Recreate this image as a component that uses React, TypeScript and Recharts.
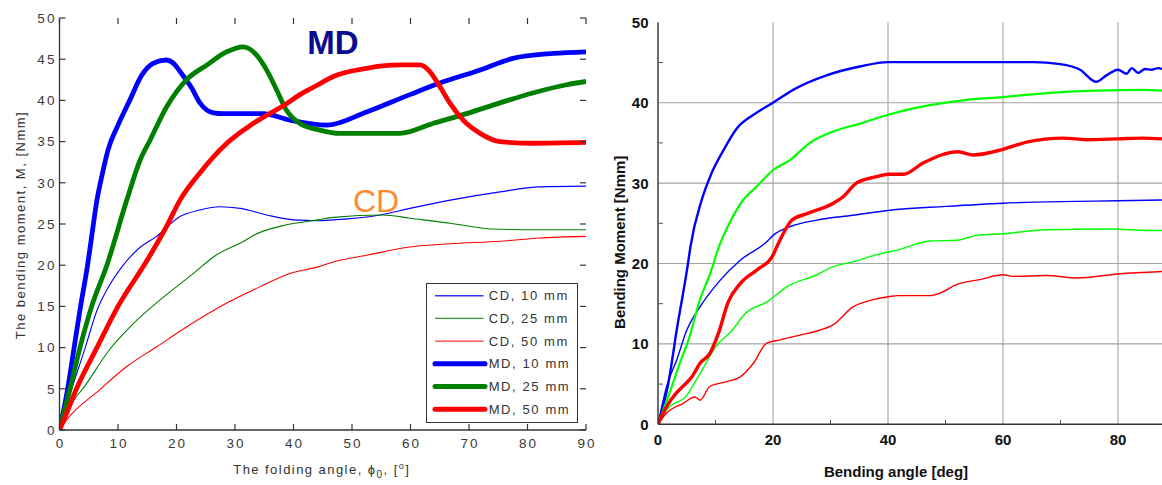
import React from 'react';
import { LineChart, Line, XAxis, YAxis, CartesianGrid, Legend, ReferenceDot, Label } from 'recharts';

const FONT = '"Liberation Sans", Arial, Helvetica, sans-serif';

// ================= Left chart data =================
const leftAngleTicks = [0, 10, 20, 30, 40, 50, 60, 70, 80, 90];
const leftMomentTicks = [0, 5, 10, 15, 20, 25, 30, 35, 40, 45, 50];

const cd10Angle = [0, 1, 2.1, 4.4, 6.4, 8.5, 10.9, 13.5, 16.6, 20.6, 24, 27.4, 30.9, 35.4, 40, 44.2, 46.8, 54.8, 59.9, 66.8, 75.3, 82.1, 90];
const cd10Moment = [0, 2.5, 5, 10, 14.5, 17.5, 20, 22, 23.5, 25.9, 26.7, 27.1, 26.9, 26.1, 25.5, 25.4, 25.5, 26.1, 26.9, 27.9, 28.9, 29.5, 29.6];

const cd25Angle = [0, 1.5, 4.5, 8.6, 12.6, 17.2, 22.9, 26.3, 31.7, 33.1, 38.8, 44.2, 46.8, 55.3, 59.9, 66.8, 73.6, 80.9, 90];
const cd25Moment = [0, 2.5, 5.5, 9.8, 12.9, 15.8, 19, 21, 23, 23.6, 24.9, 25.5, 25.8, 26.1, 25.7, 25.1, 24.4, 24.3, 24.3];

const cd50Angle = [0, 1.2, 6.9, 11.5, 16.6, 21.7, 28.6, 34.3, 39.4, 44.2, 46.8, 52.5, 59.9, 66.8, 75.3, 82, 90];
const cd50Moment = [0, 1.2, 4.9, 7.7, 10.1, 12.5, 15.4, 17.4, 19, 19.8, 20.4, 21.2, 22.2, 22.6, 22.9, 23.3, 23.5];

const md10Angle = [0, 1.4, 2.5, 3.6, 4.8, 5.6, 6.4, 7.3, 8.3, 10, 12, 14, 16, 18.2, 19.5, 20.6, 22.6, 24, 26.3, 28, 34.8, 39.4, 45.7, 52.5, 59.9, 65, 71.9, 77.5, 84.4, 90];
const md10Moment = [0, 5, 10, 15, 20, 24, 27.9, 31, 34, 37, 40, 43, 44.5, 44.9, 44.5, 43.5, 41.5, 39.7, 38.5, 38.4, 38.4, 37.6, 37.0, 38.6, 40.7, 42.1, 43.7, 45.1, 45.7, 45.9];

const md25Angle = [0, 1.8, 3.5, 5.5, 8.1, 11.5, 13.8, 15.5, 18.3, 21.7, 25.2, 28.6, 31.4, 33.7, 35.4, 37.1, 38.8, 41.1, 44.5, 47.9, 52, 58.2, 63.8, 69.6, 75.3, 80.9, 86.7, 90];
const md25Moment = [0, 5, 10, 15, 20, 27.9, 32.8, 35.2, 39.2, 42.5, 44.3, 45.9, 46.5, 45.5, 43.7, 41.3, 38.8, 37.2, 36.4, 36.0, 36.0, 36.0, 37.2, 38.4, 39.7, 40.9, 41.9, 42.3];

const md50Angle = [0, 1.2, 2.9, 6.4, 10, 14.9, 18.3, 20.6, 24, 28.6, 33.1, 38.8, 41.1, 44.2, 46.8, 52.5, 58.2, 61.6, 63.3, 65, 66.8, 69, 71.9, 75.3, 80.9, 90];
const md50Moment = [0, 2, 5, 10, 15, 20.5, 24.7, 27.9, 31.2, 34.8, 37.2, 39.6, 40.7, 41.9, 42.9, 43.9, 44.3, 44.3, 43.5, 41.7, 39.6, 37.6, 36.0, 35.0, 34.8, 34.9];

// ================= Right chart data =================
const rightAngleTicks = [0, 10, 20, 30, 40, 50, 60, 70, 80];
const rightMajorAngles = [20, 40, 60, 80];
const rightMomentTicks = [0, 5, 10, 15, 20, 25, 30, 35, 40, 45, 50];
const rightMajorMoments = [10, 20, 30, 40];
const rightAngleMax = 87.65;

const rMd10Angle = [0, 1.8, 3.25, 5.3, 5.6, 7.6, 9.3, 11.4, 13.7, 16.6, 20, 23.5, 29.3, 35.1, 40, 52, 65.3, 69.9, 73.4, 76.2, 78, 80, 81.5, 82.4, 83.5, 84.7, 85.8, 87, 87.65];
const rMd10Moment = [0, 5.1, 11.7, 20.4, 21.9, 27.9, 31.2, 34.1, 36.8, 38.5, 40, 41.6, 43.4, 44.5, 45.05, 45.05, 45.05, 44.8, 44.1, 42.6, 43.4, 44.1, 43.6, 44.3, 43.7, 44.2, 44.1, 44.3, 44.2];

const rMd25Angle = [0, 2.4, 3.8, 5.3, 7.3, 9.3, 10.5, 12.7, 14.8, 16.9, 20, 23, 26.4, 30.4, 35.1, 40, 44.4, 53.1, 60, 67.6, 76.3, 84.4, 87.65];
const rMd25Moment = [0, 4.7, 7.6, 10.5, 15.5, 19.2, 21.9, 25.4, 27.9, 29.4, 31.6, 32.9, 35, 36.4, 37.4, 38.5, 39.3, 40.3, 40.7, 41.2, 41.5, 41.6, 41.5];

const rMd50Angle = [0, 1.5, 3.2, 4.6, 5.9, 7.3, 9, 10.5, 12.2, 14.3, 17.2, 19.8, 21.2, 23.3, 25.9, 30.5, 32.2, 34.5, 38, 40, 42.7, 46.1, 52.2, 54.8, 60, 64.1, 70.5, 74.6, 80, 84.4, 87.65];
const rMd50Moment = [0, 2.2, 3.9, 4.9, 5.9, 7.6, 8.8, 11.3, 15.2, 17.5, 19.2, 20.8, 22.9, 25.4, 26.2, 27.5, 28.3, 30, 30.8, 31.1, 31.1, 32.5, 33.9, 33.5, 34.2, 35.1, 35.6, 35.4, 35.5, 35.6, 35.5];

const rCd10Angle = [0, 1.5, 3.25, 5, 7.3, 10.8, 14.3, 18.9, 20, 23, 27.6, 33.9, 40, 50, 60, 70, 80, 87.65];
const rCd10Moment = [0, 4.7, 8, 11.7, 14.6, 17.9, 20.4, 22.7, 23.5, 24.6, 25.4, 26, 26.6, 27.1, 27.5, 27.7, 27.8, 27.9];

const rCd25Angle = [0, 1.5, 5, 7.3, 10.1, 12.9, 15.2, 18.9, 22.4, 27.6, 30.5, 33.9, 38, 41.7, 47.3, 52, 55.4, 60, 67.6, 78.9, 85.4, 87.65];
const rCd25Moment = [0, 1.8, 3.6, 6.3, 9.7, 11.7, 13.8, 15.2, 17.1, 18.6, 19.6, 20.2, 21.1, 21.7, 22.8, 22.9, 23.5, 23.7, 24.2, 24.3, 24.1, 24.1];

const rCd50Angle = [0, 1.5, 4.4, 6.4, 7.3, 9, 11.9, 14.3, 16.6, 18.9, 21.2, 24.7, 28.1, 30.5, 33.9, 37.4, 40.3, 41.7, 47.3, 49, 52, 56, 60, 61.8, 67.6, 72.8, 80, 87.65];
const rCd50Moment = [0, 1.4, 2.6, 3.4, 3.0, 4.7, 5.3, 5.9, 7.6, 10.1, 10.5, 11.1, 11.7, 12.4, 14.6, 15.5, 15.9, 16.0, 16.0, 16.3, 17.4, 18.0, 18.6, 18.4, 18.5, 18.2, 18.7, 19.0];

const zip = (a: number[], m: number[]) => a.map((v, i) => ({ angle: v, moment: m[i] }));

const leftSeries = [
  { name: 'CD, 10 mm', data: zip(cd10Angle, cd10Moment), color: '#0000ff', width: 1.1, legendWidth: 1.4 },
  { name: 'CD, 25 mm', data: zip(cd25Angle, cd25Moment), color: '#008000', width: 1.1, legendWidth: 1.4 },
  { name: 'CD, 50 mm', data: zip(cd50Angle, cd50Moment), color: '#ff0000', width: 1.1, legendWidth: 1.4 },
  { name: 'MD, 10 mm', data: zip(md10Angle, md10Moment), color: '#0000ff', width: 4.8, legendWidth: 5 },
  { name: 'MD, 25 mm', data: zip(md25Angle, md25Moment), color: '#008000', width: 4.8, legendWidth: 5 },
  { name: 'MD, 50 mm', data: zip(md50Angle, md50Moment), color: '#ff0000', width: 4.8, legendWidth: 5 },
];

const rightSeries = [
  { name: 'CD 10', data: zip(rCd10Angle, rCd10Moment), color: '#0000ff', width: 1.4 },
  { name: 'CD 25', data: zip(rCd25Angle, rCd25Moment), color: '#00ff00', width: 1.4 },
  { name: 'CD 50', data: zip(rCd50Angle, rCd50Moment), color: '#ff0000', width: 1.4 },
  { name: 'MD 10', data: zip(rMd10Angle, rMd10Moment), color: '#0000ff', width: 2.4 },
  { name: 'MD 25', data: zip(rMd25Angle, rMd25Moment), color: '#00ff00', width: 2.2 },
  { name: 'MD 50', data: zip(rMd50Angle, rMd50Moment), color: '#ff0000', width: 3.4 },
];

// annotation anchors (data units)
const mdLabel = { angle: 46.75, moment: 47.1, text: 'MD' };
const cdLabel = { angle: 54.1, moment: 27.9, text: 'CD' };

// ================= Layout (left chart) =================
const L_W = 600;
const L_H = 485;
const L_MARGIN = { top: 18, right: 14, left: 0, bottom: 0 };
const L_YAXIS_W = 59.5;
const L_XAXIS_H = 55;
const L_PLOT_TOP = L_MARGIN.top;
const L_PLOT_RIGHT = L_W - L_MARGIN.right;

// ================= Tick renderers =================
const AXIS = '#333';
const TS = 2.2; // tick letter spacing on left chart
const TICK_LEN = 6;

const LeftBottomTick = (p: any) => (
  <g>
    <line x1={p.x} x2={p.x} y1={p.y} y2={p.y - TICK_LEN} stroke={AXIS} strokeWidth={1.2} />
    <line x1={p.x} x2={p.x} y1={L_PLOT_TOP} y2={L_PLOT_TOP + TICK_LEN} stroke={AXIS} strokeWidth={1.2} />
    <text x={p.x + TS / 2} y={p.y + 18.3} textAnchor="middle" fontSize={13.5} letterSpacing={TS} fill="#3a3a3a" fontFamily={FONT}>
      {p.payload.value}
    </text>
  </g>
);
const LeftLeftTick = (p: any) => (
  <g>
    <line x1={p.x} x2={p.x + TICK_LEN} y1={p.y} y2={p.y} stroke={AXIS} strokeWidth={1.2} />
    <line x1={L_PLOT_RIGHT} x2={L_PLOT_RIGHT - TICK_LEN} y1={p.y} y2={p.y} stroke={AXIS} strokeWidth={1.2} />
    <text x={p.x - 5 + TS} y={p.y + 4.8} textAnchor="end" fontSize={13.5} letterSpacing={TS} fill="#3a3a3a" fontFamily={FONT}>
      {p.payload.value}
    </text>
  </g>
);

const RightBottomTick = (p: any) => {
  const v = p.payload.value;
  if (v % 20 !== 0) return <line x1={p.x} x2={p.x} y1={p.y} y2={p.y - 4.5} stroke="#555" strokeWidth={1} />;
  return (
    <text x={p.x} y={p.y + 21} textAnchor="middle" fontSize={15} fontWeight="bold" fill="#111" fontFamily={FONT}>
      {v}
    </text>
  );
};
const RightLeftTick = (p: any) => {
  const v = p.payload.value;
  if (v % 10 !== 0) return <line x1={p.x} x2={p.x + 5} y1={p.y} y2={p.y} stroke="#555" strokeWidth={1} />;
  return (
    <text x={p.x - 9.5} y={p.y + 5.4} textAnchor="end" fontSize={15} fontWeight="bold" fill="#111" fontFamily={FONT}>
      {v}
    </text>
  );
};

// ================= Labels =================
const LeftXLabel = (p: any) => {
  const vb = p.viewBox;
  return (
    <text x={vb.x + vb.width / 2 - 1} y={vb.y + 44.3} textAnchor="middle" fontSize={13} letterSpacing={1.45} fill="#333" fontFamily={FONT}>
      The folding angle, <tspan>ϕ</tspan>
      <tspan dy={4} fontSize={10}>0</tspan>
      <tspan dy={-4}>, [</tspan>
      <tspan dy={-5} fontSize={9}>o</tspan>
      <tspan dy={5}>]</tspan>
    </text>
  );
};
const LeftYLabel = (p: any) => {
  const vb = p.viewBox;
  const cx = 25;
  const cy = vb.y + vb.height / 2 + 1;
  return (
    <text x={cx} y={cy} transform={`rotate(-90, ${cx}, ${cy})`} textAnchor="middle" fontSize={13} letterSpacing={1.5} fill="#333" fontFamily={FONT}>
      The bending moment, M, [Nmm]
    </text>
  );
};
const RightXLabel = (p: any) => {
  const vb = p.viewBox;
  return (
    <text x={vb.x + vb.width / 2 - 14} y={vb.y + 52.7} textAnchor="middle" fontSize={15} fontWeight="bold" fill="#111" fontFamily={FONT}>
      Bending angle [deg]
    </text>
  );
};
const RightYLabel = (p: any) => {
  const vb = p.viewBox;
  const cx = vb.x + 25;
  const cy = vb.y + vb.height / 2 + 19;
  return (
    <text x={cx} y={cy} transform={`rotate(-90, ${cx}, ${cy})`} textAnchor="middle" fontSize={15} fontWeight="bold" fill="#111" fontFamily={FONT}>
      Bending Moment [Nmm]
    </text>
  );
};

const LeftLegend = (props: any) => {
  const payload = props.payload || [];
  const items = leftSeries.map((s) => {
    const hit = payload.find((e: any) => e.value === s.name);
    return { name: s.name, color: hit ? hit.color : s.color, w: s.legendWidth };
  });
  return (
    <div style={{ width: 152, height: 140, border: '1.3px solid #333', boxSizing: 'border-box', background: '#fff' }}>
      <svg width={149} height={137} style={{ display: 'block' }}>
        {items.map((it, i) => {
          const y = 11.7 + i * 22.7;
          const thick = it.w > 2;
          return (
            <g key={it.name}>
              <line x1={8} x2={thick ? 58 : 56.5} y1={y} y2={y} stroke={it.color} strokeWidth={it.w} strokeLinecap={thick ? 'round' : 'butt'} opacity={thick ? 1 : 0.8} />
              <text x={61.7} y={y + 4.6} fontSize={13} letterSpacing={1.6} fill="#333" fontFamily={FONT}>
                {it.name}
              </text>
            </g>
          );
        })}
      </svg>
    </div>
  );
};

const TextShape = (cfg: { text: string; size: number; color: string; bold: boolean }) => (p: any) => (
  <text x={p.cx} y={p.cy + cfg.size * 0.358} textAnchor="middle" fontSize={cfg.size} fontWeight={cfg.bold ? 'bold' : 'normal'} fill={cfg.color} fontFamily={FONT}>
    {cfg.text}
  </text>
);

export default function App() {
  return (
    <div style={{ position: 'absolute', left: 0, top: 0, width: 1162, height: 485, background: '#fff', overflow: 'hidden' }}>
      {/* Left chart */}
      <div style={{ position: 'absolute', left: 0, top: 0 }}>
        <LineChart width={L_W} height={L_H} margin={L_MARGIN}>
          <XAxis xAxisId="b" dataKey="angle" type="number" domain={[0, 90]} ticks={leftAngleTicks} height={L_XAXIS_H} tickSize={0} tickMargin={0} tickLine={false} tick={LeftBottomTick} axisLine={{ stroke: AXIS, strokeWidth: 1.3 }} interval={0} allowDataOverflow>
            <Label content={LeftXLabel} />
          </XAxis>
          <XAxis xAxisId="t" orientation="top" dataKey="angle" type="number" domain={[0, 90]} height={0} tick={false} tickLine={false} axisLine={{ stroke: AXIS, strokeWidth: 1.3 }} allowDataOverflow />
          <YAxis yAxisId="l" type="number" domain={[0, 50]} ticks={leftMomentTicks} width={L_YAXIS_W} tickSize={0} tickMargin={0} tickLine={false} tick={LeftLeftTick} axisLine={{ stroke: AXIS, strokeWidth: 1.3 }} interval={0} allowDataOverflow>
            <Label content={LeftYLabel} />
          </YAxis>
          <YAxis yAxisId="r" orientation="right" type="number" domain={[0, 50]} width={0} tick={false} tickLine={false} axisLine={{ stroke: AXIS, strokeWidth: 1.3 }} allowDataOverflow />
          {leftSeries.map((s) => (
            <Line key={s.name} xAxisId="b" yAxisId="l" data={s.data} dataKey="moment" name={s.name} type="monotone" stroke={s.color} strokeWidth={s.width} dot={false} activeDot={false} isAnimationActive={false} strokeLinejoin="round" />
          ))}
          <ReferenceDot xAxisId="b" yAxisId="l" x={mdLabel.angle} y={mdLabel.moment} r={0} ifOverflow="visible" shape={TextShape({ text: mdLabel.text, size: 33, color: '#0b0b8f', bold: true })} />
          <ReferenceDot xAxisId="b" yAxisId="l" x={cdLabel.angle} y={cdLabel.moment} r={0} ifOverflow="visible" shape={TextShape({ text: cdLabel.text, size: 32, color: '#ff8a33', bold: false })} />
          <Legend layout="horizontal" verticalAlign="middle" align="center" content={LeftLegend} wrapperStyle={{ position: 'absolute', left: 426, top: 283, width: 152, height: 140 }} />
        </LineChart>
      </div>

      {/* Right chart */}
      <div style={{ position: 'absolute', left: 600, top: 0 }}>
        <LineChart width={562} height={485} margin={{ top: 22.3, right: 0, left: 0, bottom: 0 }}>
          <CartesianGrid xAxisId="b" yAxisId="l" stroke="#a3a3a3" strokeWidth={1.1} verticalValues={rightMajorAngles} horizontalValues={rightMajorMoments} />
          <XAxis xAxisId="b" dataKey="angle" type="number" domain={[0, rightAngleMax]} ticks={rightAngleTicks} height={60.7} tickSize={0} tickMargin={0} tickLine={false} tick={RightBottomTick} axisLine={{ stroke: AXIS, strokeWidth: 1.4 }} interval={0} allowDataOverflow>
            <Label content={RightXLabel} />
          </XAxis>
          <XAxis xAxisId="t" orientation="top" dataKey="angle" type="number" domain={[0, rightAngleMax]} height={0} tick={false} tickLine={false} axisLine={{ stroke: AXIS, strokeWidth: 1.4 }} allowDataOverflow />
          <YAxis yAxisId="l" type="number" domain={[0, 50]} ticks={rightMomentTicks} width={58} tickSize={0} tickMargin={0} tickLine={false} tick={RightLeftTick} axisLine={{ stroke: AXIS, strokeWidth: 1.4 }} interval={0} allowDataOverflow>
            <Label content={RightYLabel} />
          </YAxis>
          {rightSeries.map((s) => (
            <Line key={s.name} xAxisId="b" yAxisId="l" data={s.data} dataKey="moment" name={s.name} type="monotone" stroke={s.color} strokeWidth={s.width} dot={false} activeDot={false} isAnimationActive={false} strokeLinejoin="round" />
          ))}
        </LineChart>
      </div>
    </div>
  );
}
